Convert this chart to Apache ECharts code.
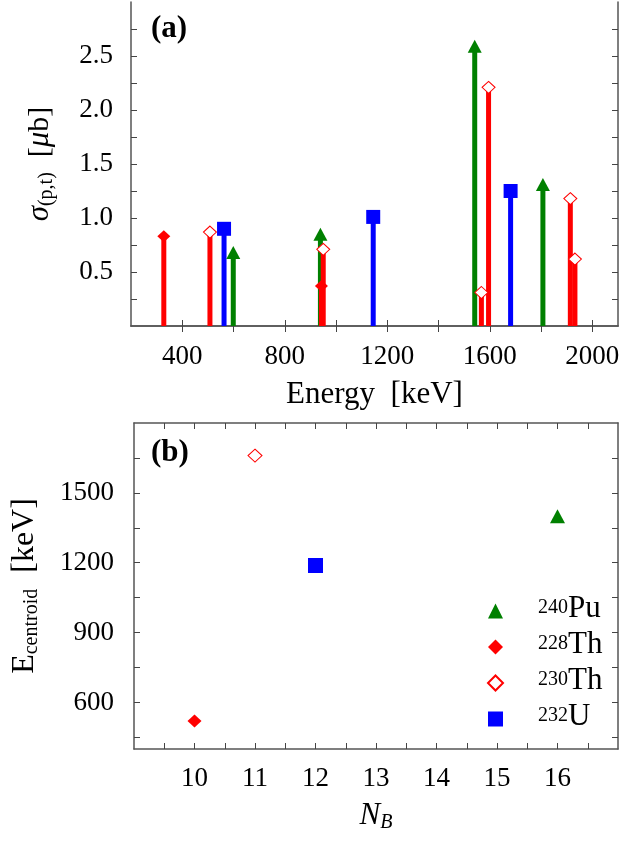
<!DOCTYPE html>
<html>
<head>
<meta charset="utf-8">
<script src="https://cdn.jsdelivr.net/npm/echarts@6/dist/echarts.min.js"></script>
<style>
  html, body { margin: 0; padding: 0; background: #fff; }
  #chart { width: 623px; height: 841px; }
</style>
</head>
<body>
<div id="chart"></div>
<script>
// panel (a): stems, energy [keV] vs sigma [μb]
const energyPu240 = [599, 939, 1541, 1807]
const sigmaPu240 = [0.68, 0.85, 2.59, 1.31]
const energyTh228 = [328, 943]
const sigmaTh228 = [0.83, 0.37]
const energyTh230 = [508, 950, 1567, 1595, 1914, 1932]
const sigmaTh230 = [0.87, 0.71, 0.31, 2.21, 1.18, 0.62]
const energyU232 = [563, 1145, 1681]
const sigmaU232 = [0.90, 1.01, 1.25]

// panel (b): centroid energy vs N_B
const nbPu240 = [16]
const centroidPu240 = [1400]
const nbTh228 = [10]
const centroidTh228 = [520]
const nbTh230 = [11]
const centroidTh230 = [1660]
const nbU232 = [12]
const centroidU232 = [1188]

// ticks and labels
const energyTicks = [400, 600, 800, 1000, 1200, 1400, 1600, 1800, 2000]
const energyLabels = [400, 800, 1200, 1600, 2000]
const sigmaTicks = [0.25, 0.5, 0.75, 1.0, 1.25, 1.5, 1.75, 2.0, 2.25, 2.5, 2.75]
const sigmaLabels = [0.5, 1.0, 1.5, 2.0, 2.5]
const nbTicks = [9.5, 10, 10.5, 11, 11.5, 12, 12.5, 13, 13.5, 14, 14.5, 15, 15.5, 16, 16.5]
const nbLabels = [10, 11, 12, 13, 14, 15, 16]
const centroidTicks = [450, 600, 750, 900, 1050, 1200, 1350, 1500, 1650]
const centroidLabels = [600, 900, 1200, 1500]

const FONT = 'Liberation Serif'
const GREEN = '#008000'
const RED = '#ff0000'
const BLUE = '#0000ff'
const frame = { show: true, lineStyle: { color: '#555', width: 1.5 } }
const plain = v => String(v)

function pairs (xs, ys) {
  return xs.map((x, i) => [x, ys[i]])
}

function tickStyle (ticks) {
  return { inside: true, length: 6, customValues: ticks, lineStyle: { color: '#444' } }
}

function labelStyle (labels, fmt, margin) {
  return { customValues: labels, formatter: fmt, margin, fontFamily: FONT, fontSize: 27, color: '#000' }
}

// main axis with labels + mirrored axis with ticks only
function axisPair (gridIndex, min, max, ticks, labels, fmt, margin, pos, extra) {
  const main = Object.assign({
    type: 'value', gridIndex, min, max, position: pos[0],
    axisLine: frame,
    splitLine: { show: false },
    axisTick: tickStyle(ticks),
    axisLabel: labelStyle(labels, fmt, margin)
  }, extra)
  const mirror = {
    type: 'value', gridIndex, min, max, position: pos[1],
    axisLine: frame,
    splitLine: { show: false },
    axisTick: tickStyle(ticks),
    axisLabel: { show: false }
  }
  return [main, mirror]
}

const xa = axisPair(0, 200, 2100, energyTicks, energyLabels, plain, 17, ['bottom', 'top'], {
  name: 'Energy  [keV]', nameLocation: 'middle', nameGap: 53,
  nameTextStyle: { fontFamily: FONT, fontSize: 31, color: '#000' }
})
const ya = axisPair(0, 0, 3, sigmaTicks, sigmaLabels, v => v.toFixed(1), 18, ['left', 'right'], {
  name: '{it|σ}{sub|(p,t)}  [{it|μ}b]', nameLocation: 'middle', nameGap: 74,
  nameTextStyle: {
    fontFamily: FONT, fontSize: 30, color: '#000',
    rich: {
      it: { fontFamily: FONT, fontSize: 31, fontStyle: 'italic', lineHeight: 34 },
      sub: { fontFamily: FONT, fontSize: 20, verticalAlign: 'bottom', lineHeight: 20 }
    }
  }
})
const xb = axisPair(1, 9, 17, nbTicks, nbLabels, plain, 16, ['bottom', 'top'], {
  name: '{it|N}{sub|B}', nameLocation: 'middle', nameGap: 50,
  nameTextStyle: {
    fontFamily: FONT, fontSize: 31, color: '#000',
    rich: {
      it: { fontFamily: FONT, fontSize: 31, fontStyle: 'italic', lineHeight: 34 },
      sub: { fontFamily: FONT, fontSize: 20, fontStyle: 'italic', verticalAlign: 'bottom', lineHeight: 20 }
    }
  }
})
const yb = axisPair(1, 400, 1800, centroidTicks, centroidLabels, plain, 20, ['left', 'right'], {
  name: 'E{sub|centroid}  [keV]', nameLocation: 'middle', nameGap: 92,
  nameTextStyle: {
    fontFamily: FONT, fontSize: 32, color: '#000', lineHeight: 34,
    rich: {
      sub: { fontFamily: FONT, fontSize: 20, verticalAlign: 'bottom', lineHeight: 20 }
    }
  }
})

function stems (name, xs, ys, color) {
  return {
    name, type: 'bar', xAxisIndex: 0, yAxisIndex: 0,
    barWidth: 5, barGap: '-100%',
    itemStyle: { color },
    data: pairs(xs, ys)
  }
}

function marks (name, xs, ys, symbol, size, style, axisIdx) {
  return {
    name, type: 'scatter', xAxisIndex: axisIdx, yAxisIndex: axisIdx,
    symbol, symbolSize: size,
    itemStyle: Object.assign({ opacity: 1 }, style),
    data: pairs(xs, ys)
  }
}

const openRed = { color: '#fff', borderColor: RED, borderWidth: 1 }

const chart = echarts.init(document.getElementById('chart'), null, { renderer: 'canvas' })
chart.setOption({
  animation: false,
  textStyle: { fontFamily: FONT },
  title: [
    { text: '(a)', left: 146, top: 8, textStyle: { fontFamily: FONT, fontSize: 31, fontWeight: 'bold', color: '#000' } },
    { text: '(b)', left: 146, top: 432, textStyle: { fontFamily: FONT, fontSize: 31, fontWeight: 'bold', color: '#000' } }
  ],
  grid: [
    { left: 131, right: 5, top: 2, height: 324 },
    { left: 131, right: 5, top: 423, height: 326 }
  ],
  xAxis: [xa[0], xa[1], xb[0], xb[1]],
  yAxis: [ya[0], ya[1], yb[0], yb[1]],
  legend: {
    orient: 'vertical', left: 482, top: 588, itemGap: 5,
    itemWidth: 15, itemHeight: 15,
    data: [
      { name: '240Pu', icon: 'triangle' },
      { name: '228Th', icon: 'diamond' },
      { name: '230Th', icon: 'diamond' },
      { name: '232U', icon: 'rect' }
    ],
    formatter: n => {
      const m = n.match(/^(\d+)(\D+)$/)
      return '{gap|}{sup|' + m[1] + '}{main|' + m[2] + '}'
    },
    textStyle: {
      rich: {
        gap: { width: 30 },
        sup: { fontFamily: FONT, fontSize: 20, verticalAlign: 'top', lineHeight: 26, color: '#000' },
        main: { fontFamily: FONT, fontSize: 31, lineHeight: 26, verticalAlign: 'bottom', color: '#000' }
      }
    }
  },
  series: [
    stems('a240Pu', energyPu240, sigmaPu240, GREEN),
    stems('a232U', energyU232, sigmaU232, BLUE),
    stems('a228Th', energyTh228, sigmaTh228, RED),
    stems('a230Th', energyTh230, sigmaTh230, RED),
    marks('a240Pu', energyPu240, sigmaPu240, 'triangle', [14, 13], { color: GREEN }, 0),
    marks('a232U', energyU232, sigmaU232, 'rect', 14, { color: BLUE }, 0),
    marks('a228Th', energyTh228, sigmaTh228, 'diamond', [13, 12], { color: RED }, 0),
    marks('a230Th', energyTh230, sigmaTh230, 'diamond', [13, 12], openRed, 0),
    marks('240Pu', nbPu240, centroidPu240, 'triangle', [15, 14], { color: GREEN }, 2),
    marks('228Th', nbTh228, centroidTh228, 'diamond', [14, 13], { color: RED }, 2),
    marks('230Th', nbTh230, centroidTh230, 'diamond', [14, 13], openRed, 2),
    marks('232U', nbU232, centroidU232, 'rect', 15, { color: BLUE }, 2)
  ]
})
</script>
</body>
</html>
